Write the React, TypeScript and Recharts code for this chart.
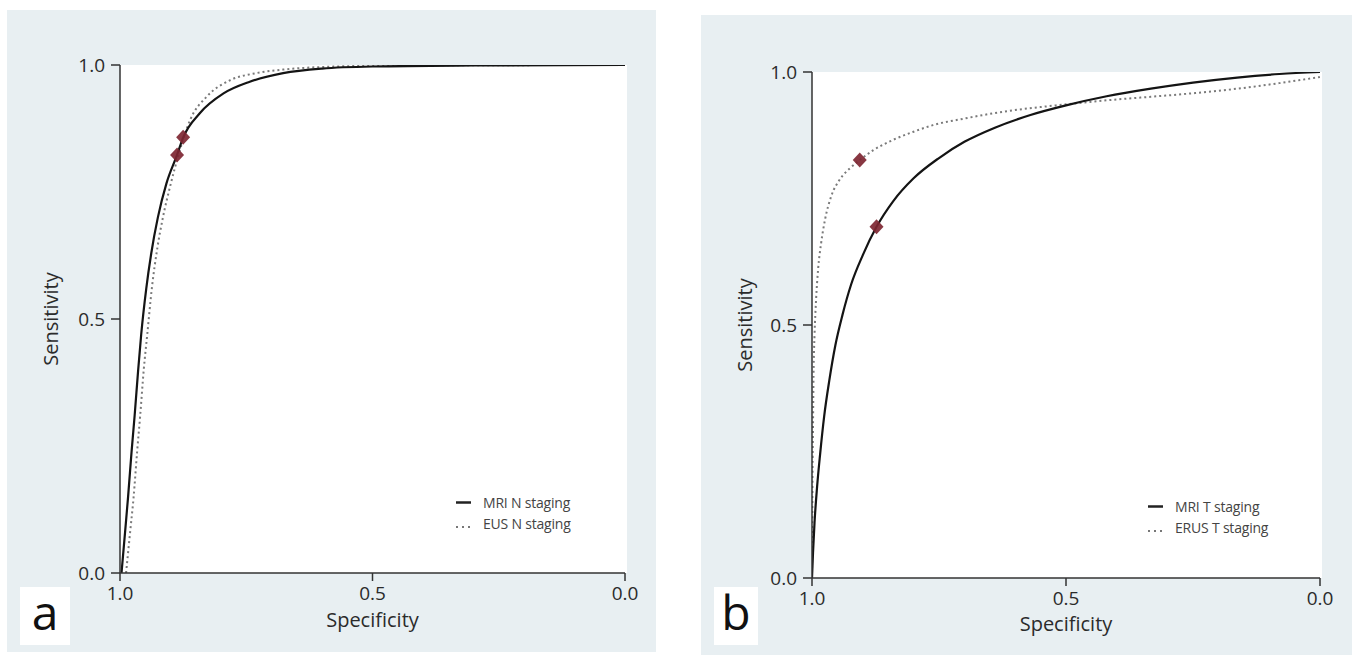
import React from 'react';
import { ComposedChart, Line, Scatter, XAxis, YAxis, Label } from 'recharts';

// panel a: N staging (specificity, sensitivity)
const mriNSpec = [0.997, 0.99, 0.984, 0.977, 0.971, 0.964, 0.958, 0.948, 0.938, 0.925, 0.908, 0.887, 0.875, 0.842, 0.795, 0.743, 0.677, 0.6, 0.5, 0.3, 0.0];
const mriNSens = [0, 0.08, 0.15, 0.24, 0.31, 0.4, 0.47, 0.56, 0.63, 0.7, 0.767, 0.823, 0.857, 0.905, 0.944, 0.967, 0.984, 0.993, 0.997, 0.999, 1.0];
const eusNSpec = [0.988, 0.98, 0.973, 0.966, 0.96, 0.953, 0.946, 0.937, 0.926, 0.915, 0.901, 0.885, 0.861, 0.828, 0.782, 0.73, 0.677, 0.6, 0.45, 0.0];
const eusNSens = [0, 0.08, 0.15, 0.24, 0.31, 0.4, 0.47, 0.56, 0.64, 0.7, 0.76, 0.82, 0.892, 0.938, 0.97, 0.984, 0.991, 0.996, 0.999, 1.0];
const summaryNSpec = [0.887, 0.875];
const summaryNSens = [0.823, 0.858];

// panel b: T staging
const mriTSpec = [1.0, 0.998, 0.995, 0.99, 0.984, 0.976, 0.966, 0.954, 0.94, 0.923, 0.9, 0.873, 0.84, 0.8, 0.75, 0.7, 0.64, 0.57, 0.5, 0.42, 0.333, 0.25, 0.163, 0.08, 0.0];
const mriTSens = [0, 0.05, 0.11, 0.18, 0.245, 0.32, 0.39, 0.46, 0.52, 0.58, 0.638, 0.694, 0.745, 0.79, 0.83, 0.862, 0.89, 0.915, 0.934, 0.952, 0.967, 0.979, 0.989, 0.996, 1.0];
const erusTSpec = [1.0, 0.9995, 0.999, 0.998, 0.997, 0.995, 0.992, 0.988, 0.982, 0.974, 0.962, 0.945, 0.925, 0.906, 0.88, 0.84, 0.8, 0.762, 0.7, 0.62, 0.52, 0.42, 0.333, 0.25, 0.163, 0.08, 0.0];
const erusTSens = [0, 0.1, 0.2, 0.3, 0.4, 0.48, 0.55, 0.61, 0.662, 0.71, 0.755, 0.788, 0.81, 0.826, 0.845, 0.866, 0.882, 0.895, 0.908, 0.922, 0.934, 0.944, 0.951, 0.958, 0.967, 0.978, 0.99];
const summaryTSpec = [0.906, 0.873];
const summaryTSens = [0.826, 0.694];

const axisTicks = [0, 0.5, 1];
const FONT = '"Open Sans", sans-serif';
const INK = '#2b2b2b';

const zip = (spec: number[], sens: number[]) => spec.map((s, i) => ({ spec: s, sens: sens[i] }));

const Diamond = (props: any) => {
  const { cx, cy } = props;
  const w = 7, h = 7.5;
  return (
    <polygon
      points={`${cx},${cy - h} ${cx + w},${cy} ${cx},${cy + h} ${cx - w},${cy}`}
      fill="#7e2632"
      fillOpacity={0.92}
    />
  );
};

function LegendBox({ solidName, dottedName, left, top }: { solidName: string; dottedName: string; left: number; top: number }) {
  const row: React.CSSProperties = { display: 'flex', alignItems: 'center', height: 21, fontFamily: FONT, fontSize: 14, color: '#444', whiteSpace: 'nowrap', letterSpacing: -0.2 };
  return (
    <div style={{ position: 'absolute', left, top }}>
      <div style={row}>
        <svg width={27} height={21}><line x1={0} x2={15} y1={10.5} y2={10.5} stroke="#222" strokeWidth={2.5} /></svg>
        <span>{solidName}</span>
      </div>
      <div style={row}>
        <svg width={27} height={21}><line x1={0} x2={15} y1={14} y2={14} stroke="#777" strokeWidth={2} strokeDasharray="2 4" /></svg>
        <span>{dottedName}</span>
      </div>
    </div>
  );
}

interface PanelProps {
  left: number;
  top: number;
  width: number;
  height: number;
  bg: React.CSSProperties;
  plot: { l: number; t: number; r: number; b: number };
  yLabelOffset: number;
  xLabelOffset: number;
  solid: { spec: number; sens: number }[];
  dotted: { spec: number; sens: number }[];
  points: { spec: number; sens: number }[];
  solidName: string;
  dottedName: string;
  legendPos: { left: number; top: number };
  letter: string;
  letterBox: React.CSSProperties;
}

function RocPanel(p: PanelProps) {
  const yAxisW = 80;
  const xAxisH = 40;
  const margin = {
    top: p.plot.t,
    left: p.plot.l - yAxisW,
    right: p.width - p.plot.r,
    bottom: p.height - p.plot.b - xAxisH,
  };
  const tickStyle = { fontFamily: FONT, fontSize: 19, fill: INK };
  return (
    <div style={{ position: 'absolute', left: p.left, top: p.top, width: p.width, height: p.height }}>
      <div style={{ position: 'absolute', background: '#e8eff2', ...p.bg }} />
      <div style={{ position: 'absolute', left: p.plot.l, top: p.plot.t, width: p.plot.r - p.plot.l + 2, height: p.plot.b - p.plot.t, background: '#fff' }} />
      <div style={{ position: 'absolute', left: 0, top: 0 }}>
        <ComposedChart width={p.width} height={p.height} margin={margin}>
          <XAxis
            type="number"
            dataKey="spec"
            domain={[0, 1]}
            reversed
            ticks={axisTicks}
            tickFormatter={(v: number) => v.toFixed(1)}
            height={xAxisH}
            tickSize={8}
            tickMargin={6}
            tick={tickStyle}
            stroke="#333"
            strokeWidth={1.5}
            allowDataOverflow
          >
            <Label value="Specificity" position="bottom" offset={p.xLabelOffset} style={{ fontFamily: FONT, fontSize: 20, fill: INK }} />
          </XAxis>
          <YAxis
            type="number"
            dataKey="sens"
            domain={[0, 1]}
            ticks={axisTicks}
            tickFormatter={(v: number) => v.toFixed(1)}
            width={yAxisW}
            tickSize={9}
            tickMargin={6}
            tick={tickStyle}
            stroke="#333"
            strokeWidth={1.5}
            allowDataOverflow
          >
            <Label value="Sensitivity" angle={-90} position="insideLeft" offset={p.yLabelOffset} style={{ fontFamily: FONT, fontSize: 20, fill: INK, textAnchor: 'middle' }} />
          </YAxis>
          <Line
            data={p.dotted}
            dataKey="sens"
            type="monotone"
            stroke="#7a7a7a"
            strokeWidth={2}
            strokeDasharray="2 3"
            dot={false}
            activeDot={false}
            isAnimationActive={false}
            legendType="none"
          />
          <Line
            data={p.solid}
            dataKey="sens"
            type="monotone"
            stroke="#141414"
            strokeWidth={2.2}
            dot={false}
            activeDot={false}
            isAnimationActive={false}
            legendType="none"
          />
          <Scatter data={p.points} dataKey="sens" shape={<Diamond />} isAnimationActive={false} legendType="none" />
        </ComposedChart>
      </div>
      <LegendBox solidName={p.solidName} dottedName={p.dottedName} left={p.legendPos.left} top={p.legendPos.top} />
      <div
        style={{
          position: 'absolute',
          background: '#fff',
          fontFamily: FONT,
          fontSize: 48,
          color: '#111',
          display: 'flex',
          alignItems: 'center',
          justifyContent: 'center',
          lineHeight: 1,
          ...p.letterBox,
        }}
      >
        <span style={{ marginTop: -8 }}>{p.letter}</span>
      </div>
    </div>
  );
}

export default function App() {
  return (
    <div style={{ position: 'absolute', left: 0, top: 0, width: 1352, height: 655, background: '#fff', overflow: 'hidden' }}>
      <RocPanel
        left={0}
        top={0}
        width={680}
        height={655}
        bg={{ left: 7, top: 10, width: 649, height: 642 }}
        plot={{ l: 120, t: 65, r: 625, b: 573 }}
        yLabelOffset={11}
        xLabelOffset={0}
        solid={zip(mriNSpec, mriNSens)}
        dotted={zip(eusNSpec, eusNSens)}
        points={zip(summaryNSpec, summaryNSens)}
        solidName="MRI N staging"
        dottedName="EUS N staging"
        legendPos={{ left: 456, top: 492 }}
        letter="a"
        letterBox={{ left: 20, top: 587, width: 50, height: 58 }}
      />
      <RocPanel
        left={700}
        top={0}
        width={652}
        height={655}
        bg={{ left: 1, top: 15, width: 651, height: 640 }}
        plot={{ l: 112, t: 72, r: 620, b: 578 }}
        yLabelOffset={13}
        xLabelOffset={-1}
        solid={zip(mriTSpec, mriTSens)}
        dotted={zip(erusTSpec, erusTSens)}
        points={zip(summaryTSpec, summaryTSens)}
        solidName="MRI T staging"
        dottedName="ERUS T staging"
        legendPos={{ left: 448, top: 496 }}
        letter="b"
        letterBox={{ left: 14, top: 587, width: 44, height: 58 }}
      />
    </div>
  );
}
